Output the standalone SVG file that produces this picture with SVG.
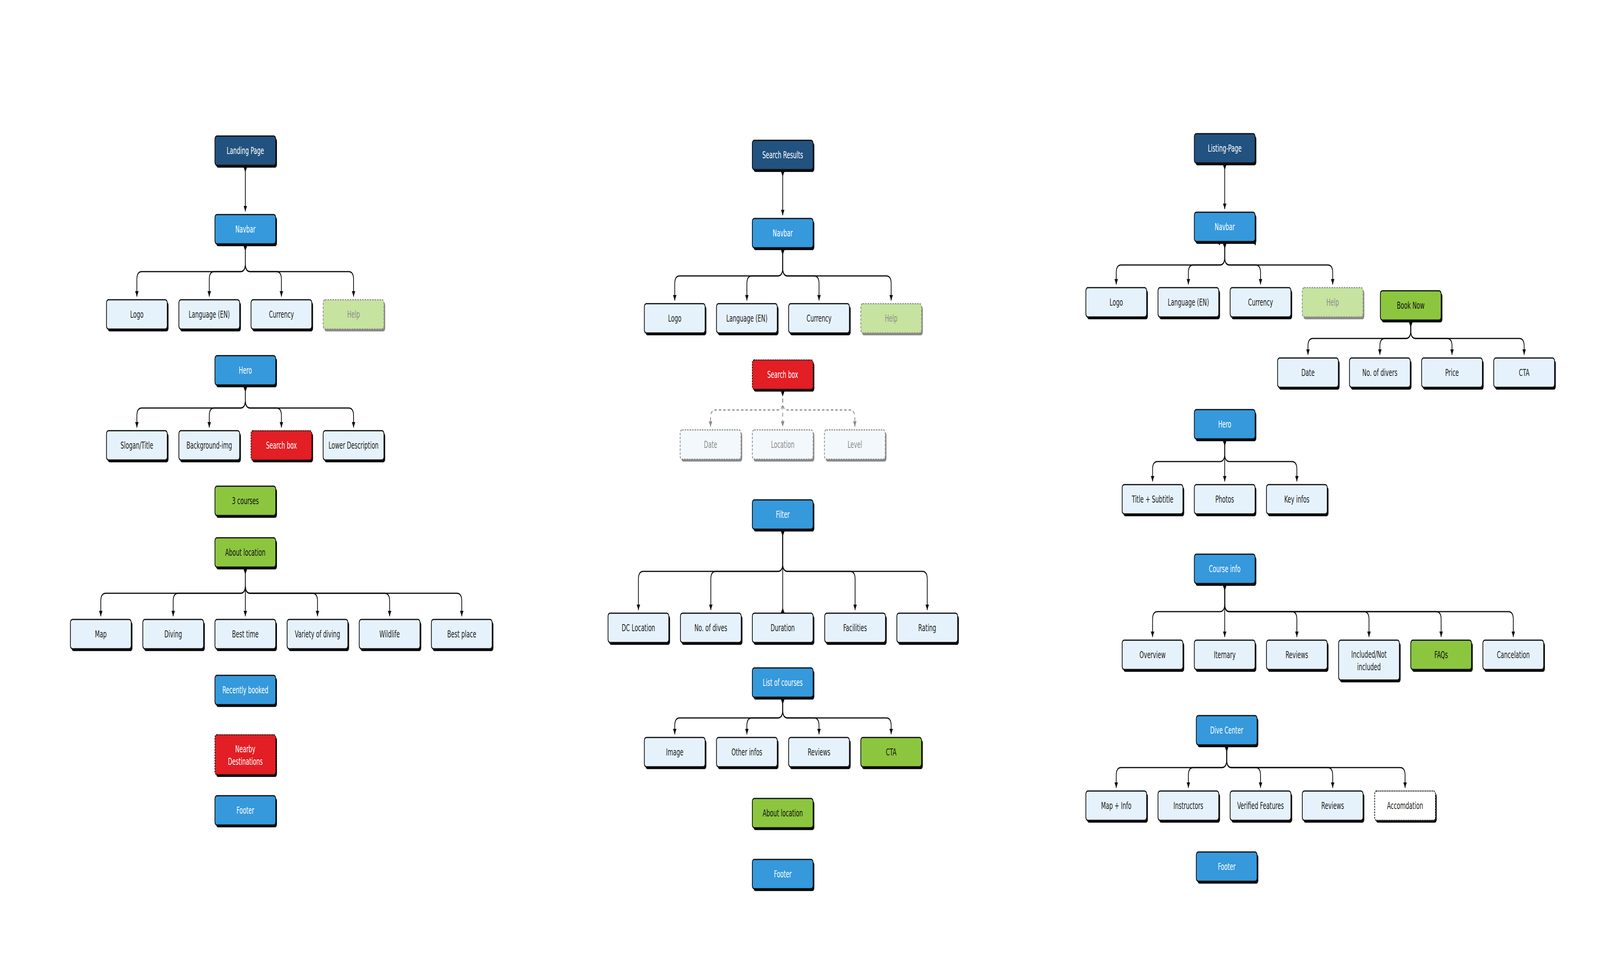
<svg xmlns="http://www.w3.org/2000/svg" width="6476" height="2505" viewBox="0 0 6476 2505" preserveAspectRatio="none" style="width:100vw;height:100vh;display:block">
<style>
.sh{fill:#0d0d0d}
.shg{fill:#8a8a8a}
.b{stroke:#0d0d0d;stroke-width:3}
.dk{fill:#22527f}
.bl{fill:#3599dc}
.lt{fill:#e6f2fb}
.gr{fill:#8cc63f}
.hp{fill:#c6e39f;stroke:#8a8a8a;stroke-width:3;stroke-dasharray:6 4}
.rd{fill:#e31e24;stroke-dasharray:4 3}
.fd{fill:#f3f8fc;stroke:#8a8a8a;stroke-width:3;stroke-dasharray:6 4}
.wh{fill:#ffffff;stroke-dasharray:4 3}
text{font-family:'Liberation Sans Narrow','DejaVu Sans Condensed','Liberation Sans',sans-serif;font-size:25px;text-anchor:middle}
.tw{fill:#ffffff}
.td{fill:#222222}
.tb{fill:#111111}
.tg{fill:#8c8c8c}
.e{fill:none;stroke:#0d0d0d;stroke-width:3;marker-start:url(#st);marker-end:url(#ah)}
.en{fill:none;stroke:#0d0d0d;stroke-width:3;marker-start:url(#st)}
.ed{fill:none;stroke:#8a8a8a;stroke-width:3;stroke-dasharray:10 8;marker-start:url(#st);marker-end:url(#ahg)}
.tri{fill:#0d0d0d}
</style>
<defs>
<marker id="ah" markerUnits="userSpaceOnUse" markerWidth="14" markerHeight="14" viewBox="0 0 14 14" refX="14" refY="7" orient="auto"><path d="M0,0 L14,7 L0,14 Z" fill="#0d0d0d"/></marker>
<marker id="ahg" markerUnits="userSpaceOnUse" markerWidth="14" markerHeight="14" viewBox="0 0 14 14" refX="14" refY="7" orient="auto"><path d="M0,0 L14,7 L0,14 Z" fill="#8a8a8a"/></marker>
<marker id="st" markerUnits="userSpaceOnUse" markerWidth="12" markerHeight="13" viewBox="0 0 12 13" refX="0" refY="6.5" orient="auto"><path d="M0,0 L12,6.5 L0,13 Z" fill="#0d0d0d"/></marker>
</defs>
<rect width="6476" height="2505" fill="#ffffff"/>

<g id="connectors">
<path class="e" d="M993,429 V541"/>
<path class="e" d="M993,630 V675 Q993,695 973,695 H574 Q554,695 554,715 V759"/>
<path class="e" d="M993,630 V675 Q993,695 973,695 H867 Q847,695 847,715 V759"/>
<path class="e" d="M993,630 V675 Q993,695 1013,695 H1119 Q1139,695 1139,715 V759"/>
<path class="e" d="M993,630 V675 Q993,695 1013,695 H1411 Q1431,695 1431,715 V759"/>
<path class="e" d="M993,991 V1024 Q993,1044 973,1044 H574 Q554,1044 554,1064 V1094"/>
<path class="e" d="M993,991 V1024 Q993,1044 973,1044 H867 Q847,1044 847,1064 V1094"/>
<path class="e" d="M993,991 V1024 Q993,1044 1013,1044 H1119 Q1139,1044 1139,1064 V1094"/>
<path class="e" d="M993,991 V1024 Q993,1044 1013,1044 H1411 Q1431,1044 1431,1064 V1094"/>
<path class="e" d="M993,1457 V1498 Q993,1518 973,1518 H428 Q408,1518 408,1538 V1577"/>
<path class="e" d="M993,1457 V1498 Q993,1518 973,1518 H721 Q701,1518 701,1538 V1577"/>
<path class="e" d="M993,1457 V1577"/>
<path class="e" d="M993,1457 V1498 Q993,1518 1013,1518 H1265 Q1285,1518 1285,1538 V1577"/>
<path class="e" d="M993,1457 V1498 Q993,1518 1013,1518 H1557 Q1577,1518 1577,1538 V1577"/>
<path class="e" d="M993,1457 V1498 Q993,1518 1013,1518 H1849 Q1869,1518 1869,1538 V1577"/>
<path class="e" d="M3168,440 V551"/>
<path class="e" d="M3168,640 V686 Q3168,706 3148,706 H2751 Q2731,706 2731,726 V769"/>
<path class="e" d="M3168,640 V686 Q3168,706 3148,706 H3043 Q3023,706 3023,726 V769"/>
<path class="e" d="M3168,640 V686 Q3168,706 3188,706 H3295 Q3315,706 3315,726 V769"/>
<path class="e" d="M3168,640 V686 Q3168,706 3188,706 H3587 Q3607,706 3607,726 V769"/>
<path class="ed" d="M3168,1002 V1029 Q3168,1049 3148,1049 H2896 Q2876,1049 2876,1069 V1092"/>
<path class="ed" d="M3168,1002 V1092"/>
<path class="ed" d="M3168,1002 V1029 Q3168,1049 3188,1049 H3440 Q3460,1049 3460,1069 V1092"/>
<path class="e" d="M3168,1360 V1442 Q3168,1462 3148,1462 H2604 Q2584,1462 2584,1482 V1561"/>
<path class="e" d="M3168,1360 V1442 Q3168,1462 3148,1462 H2897 Q2877,1462 2877,1482 V1561"/>
<path class="en" d="M3168,1360 V1569"/>
<path class="tri" d="M3160,1569 L3176,1569 L3168,1555 Z"/>
<path class="e" d="M3168,1360 V1442 Q3168,1462 3188,1462 H3441 Q3461,1462 3461,1482 V1561"/>
<path class="e" d="M3168,1360 V1442 Q3168,1462 3188,1462 H3733 Q3753,1462 3753,1482 V1561"/>
<path class="e" d="M3168,1790 V1817 Q3168,1837 3148,1837 H2751 Q2731,1837 2731,1857 V1879"/>
<path class="e" d="M3168,1790 V1817 Q3168,1837 3148,1837 H3043 Q3023,1837 3023,1857 V1879"/>
<path class="e" d="M3168,1790 V1817 Q3168,1837 3188,1837 H3295 Q3315,1837 3315,1857 V1879"/>
<path class="e" d="M3168,1790 V1817 Q3168,1837 3188,1837 H3587 Q3607,1837 3607,1857 V1879"/>
<path class="e" d="M4957,423 V535"/>
<path class="tri" d="M4926,621 L4938,614 L4938,628 Z"/>
<path class="tri" d="M5070,621 L5083,614 L5083,628 Z"/>
<path class="e" d="M4957,624 V658 Q4957,678 4937,678 H4538 Q4518,678 4518,698 V728"/>
<path class="e" d="M4957,624 V658 Q4957,678 4937,678 H4830 Q4810,678 4810,698 V728"/>
<path class="e" d="M4957,624 V658 Q4957,678 4977,678 H5082 Q5102,678 5102,698 V728"/>
<path class="e" d="M4957,624 V658 Q4957,678 4977,678 H5374 Q5394,678 5394,698 V728"/>
<path class="e" d="M5710,825 V846 Q5710,866 5690,866 H5314 Q5294,866 5294,886 V908"/>
<path class="e" d="M5710,825 V846 Q5710,866 5690,866 H5605 Q5585,866 5585,886 V908"/>
<path class="e" d="M5710,825 V846 Q5710,866 5730,866 H5857 Q5877,866 5877,886 V908"/>
<path class="e" d="M5710,825 V846 Q5710,866 5730,866 H6149 Q6169,866 6169,886 V908"/>
<path class="e" d="M4957,1129 V1161 Q4957,1181 4937,1181 H4685 Q4665,1181 4665,1201 V1232"/>
<path class="e" d="M4957,1129 V1232"/>
<path class="e" d="M4957,1129 V1161 Q4957,1181 4977,1181 H5229 Q5249,1181 5249,1201 V1232"/>
<path class="e" d="M4957,1499 V1545 Q4957,1565 4937,1565 H4685 Q4665,1565 4665,1585 V1630"/>
<path class="e" d="M4957,1499 V1630"/>
<path class="e" d="M4957,1499 V1545 Q4957,1565 4977,1565 H5229 Q5249,1565 5249,1585 V1630"/>
<path class="e" d="M4957,1499 V1545 Q4957,1565 4977,1565 H5521 Q5541,1565 5541,1585 V1630"/>
<path class="e" d="M4957,1499 V1545 Q4957,1565 4977,1565 H5813 Q5833,1565 5833,1585 V1630"/>
<path class="e" d="M4957,1499 V1545 Q4957,1565 4977,1565 H6105 Q6125,1565 6125,1585 V1630"/>
<path class="e" d="M4965,1912 V1944 Q4965,1964 4945,1964 H4538 Q4518,1964 4518,1984 V2016"/>
<path class="e" d="M4965,1912 V1944 Q4965,1964 4945,1964 H4830 Q4810,1964 4810,1984 V2016"/>
<path class="e" d="M4965,1912 V1944 Q4965,1964 4985,1964 H5082 Q5102,1964 5102,1984 V2016"/>
<path class="e" d="M4965,1912 V1944 Q4965,1964 4985,1964 H5374 Q5394,1964 5394,1984 V2016"/>
<path class="e" d="M4965,1912 V1944 Q4965,1964 4985,1964 H5667 Q5687,1964 5687,1984 V2016"/>
</g>

<g id="lp-landing"><rect class="sh" x="875" y="354" width="246" height="75" rx="8"/><rect class="b dk" x="870" y="348" width="246" height="75" rx="8"/><text class="tw" x="993" y="394">Landing Page</text></g>
<g id="lp-navbar"><rect class="sh" x="875" y="555" width="246" height="75" rx="8"/><rect class="b bl" x="870" y="549" width="246" height="75" rx="8"/><text class="tw" x="993" y="595">Navbar</text></g>
<g id="lp-logo"><rect class="sh" x="436" y="773" width="246" height="75" rx="8"/><rect class="b lt" x="431" y="767" width="246" height="75" rx="8"/><text class="td" x="554" y="813">Logo</text></g>
<g id="lp-language"><rect class="sh" x="729" y="773" width="246" height="75" rx="8"/><rect class="b lt" x="724" y="767" width="246" height="75" rx="8"/><text class="td" x="847" y="813">Language (EN)</text></g>
<g id="lp-currency"><rect class="sh" x="1021" y="773" width="246" height="75" rx="8"/><rect class="b lt" x="1016" y="767" width="246" height="75" rx="8"/><text class="td" x="1139" y="813">Currency</text></g>
<g id="lp-help"><rect class="shg" x="1313" y="773" width="246" height="75" rx="8"/><rect class="hp" x="1308" y="767" width="246" height="75" rx="8"/><text class="tg" x="1431" y="813">Help</text></g>
<g id="lp-hero"><rect class="sh" x="875" y="916" width="246" height="75" rx="8"/><rect class="b bl" x="870" y="910" width="246" height="75" rx="8"/><text class="tw" x="993" y="956">Hero</text></g>
<g id="lp-slogan"><rect class="sh" x="436" y="1108" width="246" height="75" rx="8"/><rect class="b lt" x="431" y="1102" width="246" height="75" rx="8"/><text class="td" x="554" y="1148">Slogan/Title</text></g>
<g id="lp-background"><rect class="sh" x="729" y="1108" width="246" height="75" rx="8"/><rect class="b lt" x="724" y="1102" width="246" height="75" rx="8"/><text class="td" x="847" y="1148">Background-img</text></g>
<g id="lp-searchbox"><rect class="sh" x="1021" y="1108" width="246" height="75" rx="8"/><rect class="b rd" x="1016" y="1102" width="246" height="75" rx="8"/><text class="tw" x="1139" y="1148">Search box</text></g>
<g id="lp-lowerdesc"><rect class="sh" x="1313" y="1108" width="246" height="75" rx="8"/><rect class="b lt" x="1308" y="1102" width="246" height="75" rx="8"/><text class="td" x="1431" y="1148">Lower Description</text></g>
<g id="lp-3courses"><rect class="sh" x="875" y="1250" width="246" height="75" rx="8"/><rect class="b gr" x="870" y="1244" width="246" height="75" rx="8"/><text class="tb" x="993" y="1290">3 courses</text></g>
<g id="lp-about"><rect class="sh" x="875" y="1382" width="246" height="75" rx="8"/><rect class="b gr" x="870" y="1376" width="246" height="75" rx="8"/><text class="tb" x="993" y="1422">About  location</text></g>
<g id="lp-map"><rect class="sh" x="290" y="1591" width="246" height="75" rx="8"/><rect class="b lt" x="285" y="1585" width="246" height="75" rx="8"/><text class="td" x="408" y="1631">Map</text></g>
<g id="lp-diving"><rect class="sh" x="583" y="1591" width="246" height="75" rx="8"/><rect class="b lt" x="578" y="1585" width="246" height="75" rx="8"/><text class="td" x="701" y="1631">Diving</text></g>
<g id="lp-besttime"><rect class="sh" x="875" y="1591" width="246" height="75" rx="8"/><rect class="b lt" x="870" y="1585" width="246" height="75" rx="8"/><text class="td" x="993" y="1631">Best time</text></g>
<g id="lp-variety"><rect class="sh" x="1167" y="1591" width="246" height="75" rx="8"/><rect class="b lt" x="1162" y="1585" width="246" height="75" rx="8"/><text class="td" x="1285" y="1631">Variety of diving</text></g>
<g id="lp-wildlife"><rect class="sh" x="1459" y="1591" width="246" height="75" rx="8"/><rect class="b lt" x="1454" y="1585" width="246" height="75" rx="8"/><text class="td" x="1577" y="1631">Wildlife</text></g>
<g id="lp-bestplace"><rect class="sh" x="1751" y="1591" width="246" height="75" rx="8"/><rect class="b lt" x="1746" y="1585" width="246" height="75" rx="8"/><text class="td" x="1869" y="1631">Best place</text></g>
<g id="lp-recent"><rect class="sh" x="875" y="1734" width="246" height="75" rx="8"/><rect class="b bl" x="870" y="1728" width="246" height="75" rx="8"/><text class="tw" x="993" y="1774">Recently booked</text></g>
<g id="lp-nearby"><rect class="sh" x="875" y="1886" width="246" height="102" rx="8"/><rect class="b rd" x="870" y="1880" width="246" height="102" rx="8"/><text class="tw" x="993" y="1925">Nearby</text><text class="tw" x="993" y="1957">Destinations</text></g>
<g id="lp-footer"><rect class="sh" x="875" y="2042" width="246" height="75" rx="8"/><rect class="b bl" x="870" y="2036" width="246" height="75" rx="8"/><text class="tw" x="993" y="2082">Footer</text></g>

<g id="sr-title"><rect class="sh" x="3050" y="365" width="246" height="75" rx="8"/><rect class="b dk" x="3045" y="359" width="246" height="75" rx="8"/><text class="tw" x="3168" y="405">Search Results</text></g>
<g id="sr-navbar"><rect class="sh" x="3050" y="565" width="246" height="75" rx="8"/><rect class="b bl" x="3045" y="559" width="246" height="75" rx="8"/><text class="tw" x="3168" y="605">Navbar</text></g>
<g id="sr-logo"><rect class="sh" x="2613" y="783" width="246" height="75" rx="8"/><rect class="b lt" x="2608" y="777" width="246" height="75" rx="8"/><text class="td" x="2731" y="823">Logo</text></g>
<g id="sr-language"><rect class="sh" x="2905" y="783" width="246" height="75" rx="8"/><rect class="b lt" x="2900" y="777" width="246" height="75" rx="8"/><text class="td" x="3023" y="823">Language (EN)</text></g>
<g id="sr-currency"><rect class="sh" x="3197" y="783" width="246" height="75" rx="8"/><rect class="b lt" x="3192" y="777" width="246" height="75" rx="8"/><text class="td" x="3315" y="823">Currency</text></g>
<g id="sr-help"><rect class="shg" x="3489" y="783" width="246" height="75" rx="8"/><rect class="hp" x="3484" y="777" width="246" height="75" rx="8"/><text class="tg" x="3607" y="823">Help</text></g>
<g id="sr-searchbox"><rect class="sh" x="3050" y="927" width="246" height="75" rx="8"/><rect class="b rd" x="3045" y="921" width="246" height="75" rx="8"/><text class="tw" x="3168" y="967">Search box</text></g>
<g id="sr-date"><rect class="shg" x="2758" y="1106" width="246" height="75" rx="8"/><rect class="fd" x="2753" y="1100" width="246" height="75" rx="8"/><text class="tg" x="2876" y="1146">Date</text></g>
<g id="sr-location"><rect class="shg" x="3050" y="1106" width="246" height="75" rx="8"/><rect class="fd" x="3045" y="1100" width="246" height="75" rx="8"/><text class="tg" x="3168" y="1146">Location</text></g>
<g id="sr-level"><rect class="shg" x="3342" y="1106" width="246" height="75" rx="8"/><rect class="fd" x="3337" y="1100" width="246" height="75" rx="8"/><text class="tg" x="3460" y="1146">Level</text></g>
<g id="sr-filter"><rect class="sh" x="3050" y="1285" width="246" height="75" rx="8"/><rect class="b bl" x="3045" y="1279" width="246" height="75" rx="8"/><text class="tw" x="3168" y="1325">Filter</text></g>
<g id="sr-dclocation"><rect class="sh" x="2466" y="1575" width="246" height="75" rx="8"/><rect class="b lt" x="2461" y="1569" width="246" height="75" rx="8"/><text class="td" x="2584" y="1615">DC Location</text></g>
<g id="sr-nodives"><rect class="sh" x="2759" y="1575" width="246" height="75" rx="8"/><rect class="b lt" x="2754" y="1569" width="246" height="75" rx="8"/><text class="td" x="2877" y="1615">No. of dives</text></g>
<g id="sr-duration"><rect class="sh" x="3050" y="1575" width="246" height="75" rx="8"/><rect class="b lt" x="3045" y="1569" width="246" height="75" rx="8"/><text class="td" x="3168" y="1615">Duration</text></g>
<g id="sr-facilities"><rect class="sh" x="3343" y="1575" width="246" height="75" rx="8"/><rect class="b lt" x="3338" y="1569" width="246" height="75" rx="8"/><text class="td" x="3461" y="1615">Facilities</text></g>
<g id="sr-rating"><rect class="sh" x="3635" y="1575" width="246" height="75" rx="8"/><rect class="b lt" x="3630" y="1569" width="246" height="75" rx="8"/><text class="td" x="3753" y="1615">Rating</text></g>
<g id="sr-list"><rect class="sh" x="3050" y="1715" width="246" height="75" rx="8"/><rect class="b bl" x="3045" y="1709" width="246" height="75" rx="8"/><text class="tw" x="3168" y="1755">List of courses</text></g>
<g id="sr-image"><rect class="sh" x="2613" y="1893" width="246" height="75" rx="8"/><rect class="b lt" x="2608" y="1887" width="246" height="75" rx="8"/><text class="td" x="2731" y="1933">Image</text></g>
<g id="sr-otherinfos"><rect class="sh" x="2905" y="1893" width="246" height="75" rx="8"/><rect class="b lt" x="2900" y="1887" width="246" height="75" rx="8"/><text class="td" x="3023" y="1933">Other infos</text></g>
<g id="sr-reviews"><rect class="sh" x="3197" y="1893" width="246" height="75" rx="8"/><rect class="b lt" x="3192" y="1887" width="246" height="75" rx="8"/><text class="td" x="3315" y="1933">Reviews</text></g>
<g id="sr-cta"><rect class="sh" x="3489" y="1893" width="246" height="75" rx="8"/><rect class="b gr" x="3484" y="1887" width="246" height="75" rx="8"/><text class="tb" x="3607" y="1933">CTA</text></g>
<g id="sr-about"><rect class="sh" x="3050" y="2049" width="246" height="75" rx="8"/><rect class="b gr" x="3045" y="2043" width="246" height="75" rx="8"/><text class="tb" x="3168" y="2089">About location</text></g>
<g id="sr-footer"><rect class="sh" x="3050" y="2205" width="246" height="75" rx="8"/><rect class="b bl" x="3045" y="2199" width="246" height="75" rx="8"/><text class="tw" x="3168" y="2245">Footer</text></g>

<g id="lt-title"><rect class="sh" x="4839" y="348" width="246" height="75" rx="8"/><rect class="b dk" x="4834" y="342" width="246" height="75" rx="8"/><text class="tw" x="4957" y="388">Listing-Page</text></g>
<g id="lt-navbar"><rect class="sh" x="4839" y="549" width="246" height="75" rx="8"/><rect class="b bl" x="4834" y="543" width="246" height="75" rx="8"/><text class="tw" x="4957" y="589">Navbar</text></g>
<g id="lt-logo"><rect class="sh" x="4400" y="742" width="246" height="75" rx="8"/><rect class="b lt" x="4395" y="736" width="246" height="75" rx="8"/><text class="td" x="4518" y="782">Logo</text></g>
<g id="lt-language"><rect class="sh" x="4692" y="742" width="246" height="75" rx="8"/><rect class="b lt" x="4687" y="736" width="246" height="75" rx="8"/><text class="td" x="4810" y="782">Language (EN)</text></g>
<g id="lt-currency"><rect class="sh" x="4984" y="742" width="246" height="75" rx="8"/><rect class="b lt" x="4979" y="736" width="246" height="75" rx="8"/><text class="td" x="5102" y="782">Currency</text></g>
<g id="lt-help"><rect class="shg" x="5276" y="742" width="246" height="75" rx="8"/><rect class="hp" x="5271" y="736" width="246" height="75" rx="8"/><text class="tg" x="5394" y="782">Help</text></g>
<g id="lt-booknow"><rect class="sh" x="5592" y="750" width="246" height="75" rx="8"/><rect class="b gr" x="5587" y="744" width="246" height="75" rx="8"/><text class="tb" x="5710" y="790">Book Now</text></g>
<g id="lt-date"><rect class="sh" x="5176" y="922" width="246" height="75" rx="8"/><rect class="b lt" x="5171" y="916" width="246" height="75" rx="8"/><text class="td" x="5294" y="962">Date</text></g>
<g id="lt-nodivers"><rect class="sh" x="5467" y="922" width="246" height="75" rx="8"/><rect class="b lt" x="5462" y="916" width="246" height="75" rx="8"/><text class="td" x="5585" y="962">No. of divers</text></g>
<g id="lt-price"><rect class="sh" x="5759" y="922" width="246" height="75" rx="8"/><rect class="b lt" x="5754" y="916" width="246" height="75" rx="8"/><text class="td" x="5877" y="962">Price</text></g>
<g id="lt-cta"><rect class="sh" x="6051" y="922" width="246" height="75" rx="8"/><rect class="b lt" x="6046" y="916" width="246" height="75" rx="8"/><text class="td" x="6169" y="962">CTA</text></g>
<g id="lt-hero"><rect class="sh" x="4839" y="1054" width="246" height="75" rx="8"/><rect class="b bl" x="4834" y="1048" width="246" height="75" rx="8"/><text class="tw" x="4957" y="1094">Hero</text></g>
<g id="lt-titlesub"><rect class="sh" x="4547" y="1246" width="246" height="75" rx="8"/><rect class="b lt" x="4542" y="1240" width="246" height="75" rx="8"/><text class="td" x="4665" y="1286">Title + Subtitle</text></g>
<g id="lt-photos"><rect class="sh" x="4839" y="1246" width="246" height="75" rx="8"/><rect class="b lt" x="4834" y="1240" width="246" height="75" rx="8"/><text class="td" x="4957" y="1286">Photos</text></g>
<g id="lt-keyinfos"><rect class="sh" x="5131" y="1246" width="246" height="75" rx="8"/><rect class="b lt" x="5126" y="1240" width="246" height="75" rx="8"/><text class="td" x="5249" y="1286">Key infos</text></g>
<g id="lt-courseinfo"><rect class="sh" x="4839" y="1424" width="246" height="75" rx="8"/><rect class="b bl" x="4834" y="1418" width="246" height="75" rx="8"/><text class="tw" x="4957" y="1464">Course info</text></g>
<g id="lt-overview"><rect class="sh" x="4547" y="1644" width="246" height="75" rx="8"/><rect class="b lt" x="4542" y="1638" width="246" height="75" rx="8"/><text class="td" x="4665" y="1684">Overview</text></g>
<g id="lt-iternary"><rect class="sh" x="4839" y="1644" width="246" height="75" rx="8"/><rect class="b lt" x="4834" y="1638" width="246" height="75" rx="8"/><text class="td" x="4957" y="1684">Iternary</text></g>
<g id="lt-reviews"><rect class="sh" x="5131" y="1644" width="246" height="75" rx="8"/><rect class="b lt" x="5126" y="1638" width="246" height="75" rx="8"/><text class="td" x="5249" y="1684">Reviews</text></g>
<g id="lt-included"><rect class="sh" x="5423" y="1644" width="246" height="102" rx="8"/><rect class="b lt" x="5418" y="1638" width="246" height="102" rx="8"/><text class="td" x="5541" y="1683">Included/Not</text><text class="td" x="5541" y="1715">included</text></g>
<g id="lt-faqs"><rect class="sh" x="5715" y="1644" width="246" height="75" rx="8"/><rect class="b gr" x="5710" y="1638" width="246" height="75" rx="8"/><text class="tb" x="5833" y="1684">FAQs</text></g>
<g id="lt-cancelation"><rect class="sh" x="6007" y="1644" width="246" height="75" rx="8"/><rect class="b lt" x="6002" y="1638" width="246" height="75" rx="8"/><text class="td" x="6125" y="1684">Cancelation</text></g>
<g id="lt-divecenter"><rect class="sh" x="4847" y="1837" width="246" height="75" rx="8"/><rect class="b bl" x="4842" y="1831" width="246" height="75" rx="8"/><text class="tw" x="4965" y="1877">Dive Center</text></g>
<g id="lt-mapinfo"><rect class="sh" x="4400" y="2030" width="246" height="75" rx="8"/><rect class="b lt" x="4395" y="2024" width="246" height="75" rx="8"/><text class="td" x="4518" y="2070">Map + Info</text></g>
<g id="lt-instructors"><rect class="sh" x="4692" y="2030" width="246" height="75" rx="8"/><rect class="b lt" x="4687" y="2024" width="246" height="75" rx="8"/><text class="td" x="4810" y="2070">Instructors</text></g>
<g id="lt-verified"><rect class="sh" x="4984" y="2030" width="246" height="75" rx="8"/><rect class="b lt" x="4979" y="2024" width="246" height="75" rx="8"/><text class="td" x="5102" y="2070">Verified Features</text></g>
<g id="lt-dcreviews"><rect class="sh" x="5276" y="2030" width="246" height="75" rx="8"/><rect class="b lt" x="5271" y="2024" width="246" height="75" rx="8"/><text class="td" x="5394" y="2070">Reviews</text></g>
<g id="lt-accomdation"><rect class="sh" x="5569" y="2030" width="246" height="75" rx="8"/><rect class="b wh" x="5564" y="2024" width="246" height="75" rx="8"/><text class="td" x="5687" y="2070">Accomdation</text></g>
<g id="lt-footer"><rect class="sh" x="4847" y="2186" width="246" height="75" rx="8"/><rect class="b bl" x="4842" y="2180" width="246" height="75" rx="8"/><text class="tw" x="4965" y="2226">Footer</text></g>
</svg>
